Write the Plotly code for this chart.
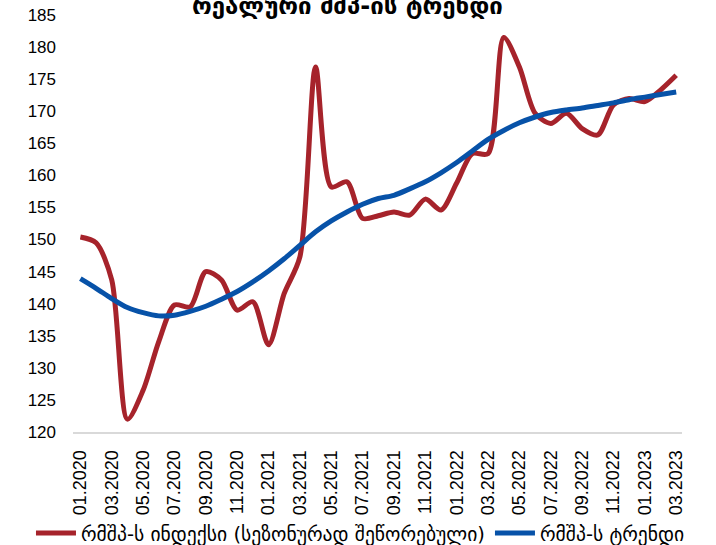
import plotly.graph_objects as go

months = ["01.2020","02.2020","03.2020","04.2020","05.2020","06.2020","07.2020","08.2020","09.2020","10.2020","11.2020","12.2020",
          "01.2021","02.2021","03.2021","04.2021","05.2021","06.2021","07.2021","08.2021","09.2021","10.2021","11.2021","12.2021",
          "01.2022","02.2022","03.2022","04.2022","05.2022","06.2022","07.2022","08.2022","09.2022","10.2022","11.2022","12.2022",
          "01.2023","02.2023","03.2023"]

gdp_index = [150.4,149.5,143.7,122.0,126.5,134.1,139.8,139.5,145.0,143.7,139.0,140.3,
             133.6,141.6,147.3,176.9,158.2,159.0,153.3,153.7,154.3,153.8,156.3,154.6,
             158.8,163.4,163.4,181.5,176.9,169.7,168.1,169.7,167.3,166.3,171.0,172.0,
             171.5,173.3,175.6]

gdp_trend = [143.9,142.4,140.8,139.4,138.6,138.1,138.2,138.8,139.6,140.7,141.9,143.4,
             145.1,147.0,149.1,151.2,152.9,154.3,155.5,156.4,156.9,157.9,159.0,160.4,
             162.0,163.8,165.6,167.0,168.2,169.1,169.8,170.2,170.5,170.9,171.3,171.8,
             172.2,172.6,173.0]

name_index = "რმშპ-ს ინდექსი (სეზონურად შეწორებული)"
name_trend = "რმშპ-ს ტრენდი"
title_text = "რეალური მშპ-ის ტრენდი"

x = list(range(len(months)))
tick_idx = x[::2]
tick_txt = months[::2]

font_fam = "Liberation Sans, Arial, DejaVu Sans, sans-serif"

fig = go.Figure()
fig.add_trace(go.Scatter(x=x, y=gdp_index, mode="lines", name=name_index,
                         line=dict(color="#a6232b", width=5, shape="spline", smoothing=0.8)))
fig.add_trace(go.Scatter(x=x, y=gdp_trend, mode="lines", name=name_trend,
                         line=dict(color="#0752a8", width=5, shape="spline", smoothing=0.8)))

fig.update_layout(
    width=716, height=545,
    margin=dict(l=73, r=34, t=15, b=113, autoexpand=False),
    paper_bgcolor="white", plot_bgcolor="white",
    font=dict(family=font_fam, size=17, color="#000000"),
    showlegend=True,
    legend=dict(orientation="h", x=-0.069, xanchor="left", y=-0.243, yanchor="middle",
                bgcolor="rgba(0,0,0,0)",
                font=dict(size=19.6, family="DejaVu Sans"), itemwidth=40, tracegroupgap=0),
)
fig.add_annotation(text="<b>" + title_text + "</b>", xref="paper", yref="paper",
                   x=0.45, y=1.0, xanchor="center", yanchor="bottom", showarrow=False,
                   font=dict(size=24, family="DejaVu Sans"), yshift=-7)

fig.update_xaxes(range=[-0.47, 38.37], tickmode="array", tickvals=tick_idx, ticktext=tick_txt,
                 tickangle=-90, showgrid=False, zeroline=False, showline=True,
                 linecolor="#d9d9d9", linewidth=2, ticks="", tickfont=dict(size=18),
                 ticklabelstandoff=9)
fig.update_yaxes(range=[120, 185], dtick=5, tick0=120, showgrid=False, zeroline=False,
                 showline=False, ticks="", tickfont=dict(size=17), ticklabelstandoff=16)

fig.write_html("out.html", config={"displayModeBar": False},
               post_script="document.body.style.margin='0';")
